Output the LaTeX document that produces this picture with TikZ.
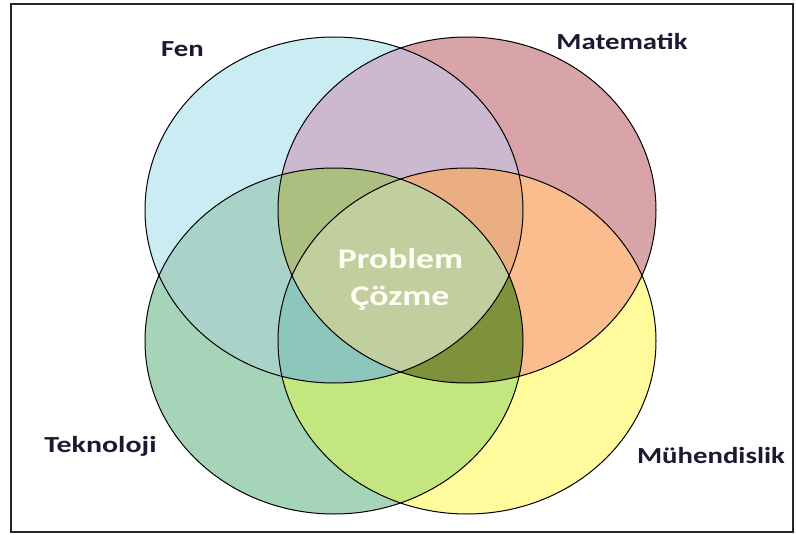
\documentclass[tikz,border=0pt]{standalone}
\usepackage{fontspec}
\setmainfont{Carlito}
\usepackage{graphicx}
\definecolor{cF}{HTML}{CCECF3}
\definecolor{cM}{HTML}{D8A4A7}
\definecolor{cT}{HTML}{A6D4B9}
\definecolor{cU}{HTML}{FFFB9D}
\definecolor{cFM}{HTML}{CDB9CF}
\definecolor{cFT}{HTML}{A9D3C9}
\definecolor{cMU}{HTML}{FBBC8E}
\definecolor{cTU}{HTML}{C4E67E}
\definecolor{cFMT}{HTML}{ADBF80}
\definecolor{cFMU}{HTML}{EBAE82}
\definecolor{cFTU}{HTML}{8DC6BA}
\definecolor{cMTU}{HTML}{7E923C}
\definecolor{cAll}{HTML}{C1CE9E}
\definecolor{labc}{HTML}{1A1A30}
\newcommand\ellF{(334pt,-210pt) ellipse [x radius=189pt, y radius=173pt]}
\newcommand\ellM{(467pt,-210pt) ellipse [x radius=189pt, y radius=173pt]}
\newcommand\ellT{(334pt,-341pt) ellipse [x radius=189pt, y radius=173pt]}
\newcommand\ellU{(467pt,-341pt) ellipse [x radius=189pt, y radius=173pt]}
\tikzset{
  lab/.style={anchor=base, inner sep=0pt, text=labc, font=\fontsize{23pt}{23pt}\selectfont\bfseries},
  ctr/.style={anchor=base, inner sep=0pt, text=white!97!yellow, font=\fontsize{28.5pt}{28.5pt}\selectfont\bfseries},
  outl/.style={draw=black, line width=1pt}
}
\begin{document}
\begin{tikzpicture}[x=1pt,y=1pt]
\useasboundingbox (0,0) rectangle (796,-535);
\fill[white] (0,0) rectangle (796,-535);
\draw[line width=1.6pt, black!85] (11,-4) rectangle (793,-532);
% singles
\fill[cF] \ellF; \fill[cM] \ellM; \fill[cT] \ellT; \fill[cU] \ellU;
% pairs
\begin{scope}\clip \ellF; \fill[cFM] \ellM; \end{scope}
\begin{scope}\clip \ellF; \fill[cFT] \ellT; \end{scope}
\begin{scope}\clip \ellM; \fill[cMU] \ellU; \end{scope}
\begin{scope}\clip \ellT; \fill[cTU] \ellU; \end{scope}
% triples
\begin{scope}\clip \ellF; \clip \ellM; \fill[cFMT] \ellT; \end{scope}
\begin{scope}\clip \ellF; \clip \ellM; \fill[cFMU] \ellU; \end{scope}
\begin{scope}\clip \ellF; \clip \ellT; \fill[cFTU] \ellU; \end{scope}
\begin{scope}\clip \ellM; \clip \ellT; \fill[cMTU] \ellU; \end{scope}
% all four
\begin{scope}\clip \ellF; \clip \ellM; \clip \ellT; \fill[cAll] \ellU; \end{scope}
% outlines
\draw[outl] \ellF; \draw[outl] \ellM; \draw[outl] \ellT; \draw[outl] \ellU;
% labels
\node[lab] (fen) at (182.5,-57) {\scalebox{1.25}[1]{Fen}};
\node[lab] (mat) at (622,-50) {\scalebox{1.25}[1]{Matematik}};
\node[lab] (tek) at (100.5,-452) {\scalebox{1.3}[1]{Teknoloji}};
\node[lab] (muh) at (711,-463) {\scalebox{1.25}[1]{Mühendislik}};
\node[ctr] (pb) at (400.5,-268) {\scalebox{1.25}[1]{Problem}};
\node[ctr] (cz) at (400,-305) {\scalebox{1.25}[1]{Çözme}};
\end{tikzpicture}
\end{document}
